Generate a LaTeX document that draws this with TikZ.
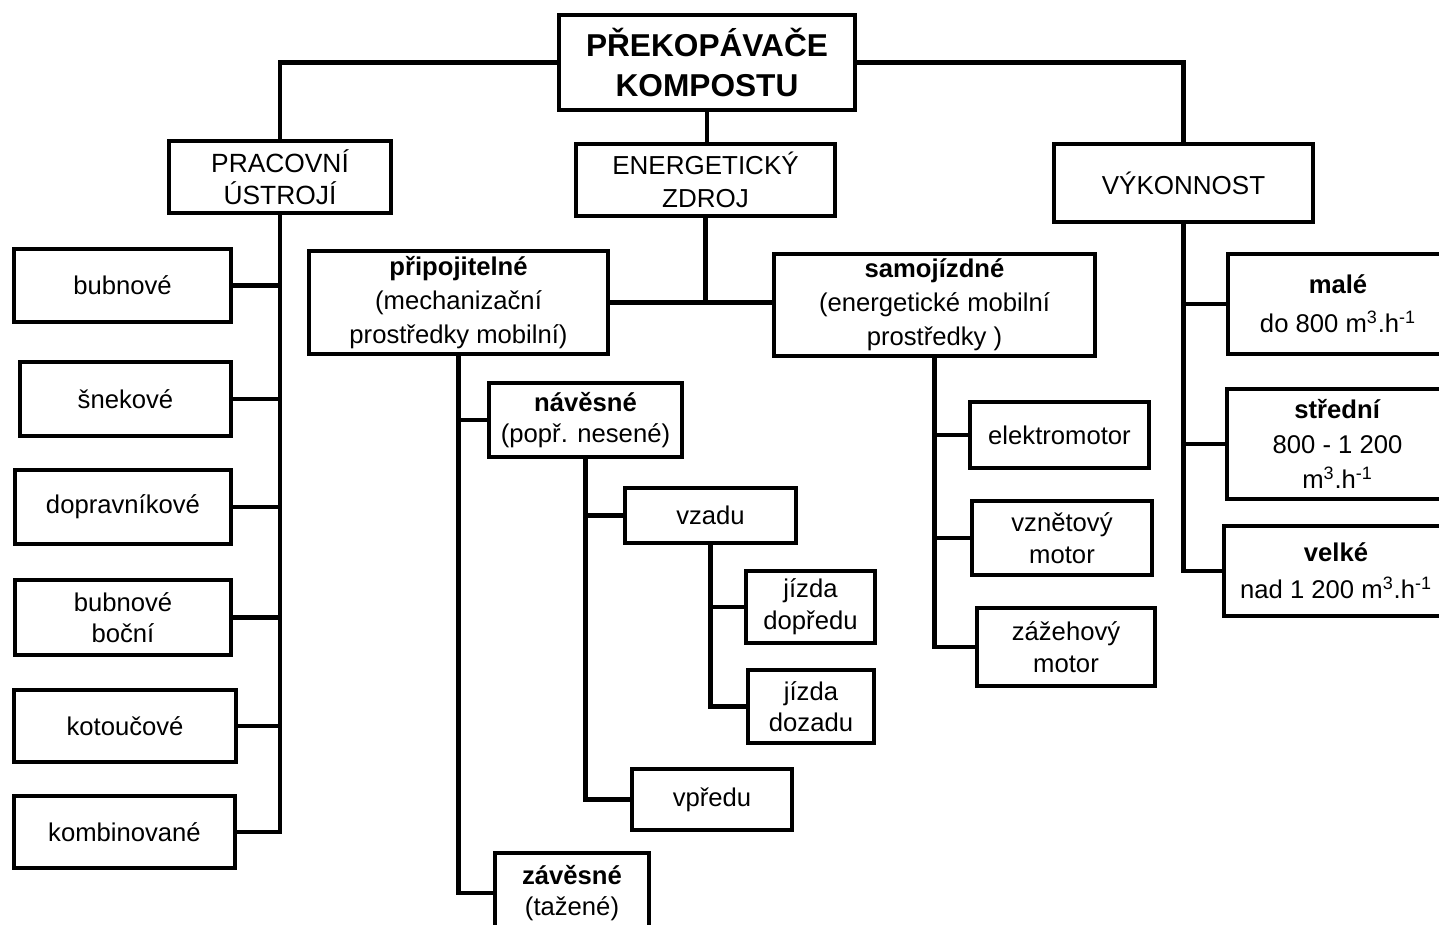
\documentclass[tikz,border=0pt]{standalone}
\usepackage{fontspec}
\setmainfont{Liberation Sans}
\begin{document}
\begin{tikzpicture}[x=0.02cm,y=-0.02cm,
  box/.style={draw=black,line width=2.5pt,fill=white,inner sep=0pt,align=center,
    font=\fontsize{14.6}{18}\selectfont},
  tall/.style={font=\fontsize{14.6}{19.3}\selectfont},
  conn/.style={draw=black,line width=2.5pt}]
\useasboundingbox (0,0) rectangle (1439,924);
\clip (0,0) rectangle (1439,924);
% top level
\node[box,minimum width=5.92cm,minimum height=1.90cm,font=\bfseries\fontsize{18}{23.2}\selectfont] (top) at (707,62.5) {PŘEKOPÁVAČE\\KOMPOSTU};
\node[box,minimum width=4.44cm,minimum height=1.44cm,font=\fontsize{15}{18.5}\selectfont] (prac) at (280,177) {PRACOVNÍ\\ÚSTROJÍ};
\node[box,minimum width=5.18cm,minimum height=1.44cm,font=\fontsize{14.8}{18.5}\selectfont] (ener) at (705.5,180) {ENERGETICKÝ\\ZDROJ};
\node[box,minimum width=5.18cm,minimum height=1.56cm,font=\fontsize{14.8}{18.5}\selectfont] (vyk) at (1183.5,183) {VÝKONNOST};
% left column
\node[box,minimum width=4.34cm,minimum height=1.46cm] (bub) at (122.5,285.5) {bubnové};
\node[box,minimum width=4.22cm,minimum height=1.48cm] (snek) at (125.5,399) {šnekové};
\node[box,minimum width=4.32cm,minimum height=1.48cm] (dopr) at (123,507) {dopravníkové};
\node[box,minimum width=4.32cm,minimum height=1.50cm] (bubb) at (123,617.5) {bubnové\\boční};
\node[box,minimum width=4.44cm,minimum height=1.44cm] (kot) at (125,726) {kotoučové};
\node[box,minimum width=4.42cm,minimum height=1.44cm] (komb) at (124.5,832) {kombinované};
% energy sources
\node[box,tall,minimum width=5.98cm,minimum height=2.06cm] (prip) at (458.5,302.5) {\textbf{připojitelné}\\(mechanizační\\prostředky mobilní)};
\node[box,tall,minimum width=6.42cm,minimum height=2.04cm] (samo) at (934.5,305) {\textbf{samojízdné}\\(energetické mobilní\\prostředky )};
\node[box,minimum width=3.86cm,minimum height=1.48cm] (nav) at (585.5,420) {\textbf{návěsné}\\(popř. nesené)};
\node[box,minimum width=3.08cm,minimum height=1.60cm] (zav) at (572,893) {\textbf{závěsné}\\(tažené)};
\node[box,minimum width=3.42cm,minimum height=1.10cm] (vzadu) at (710.5,515.5) {vzadu};
\node[box,minimum width=3.20cm,minimum height=1.22cm] (vpredu) at (712,799.5) {vpředu};
\node[box,minimum width=2.58cm,minimum height=1.44cm] (jdop) at (810.5,607) {jízda\\dopředu};
\node[box,minimum width=2.52cm,minimum height=1.46cm] (jdoz) at (811,706.5) {jízda\\dozadu};
\node[box,minimum width=3.58cm,minimum height=1.32cm] (elek) at (1059.5,435) {elektromotor};
\node[box,minimum width=3.60cm,minimum height=1.48cm] (vzn) at (1062,538) {vznětový\\motor};
\node[box,minimum width=3.56cm,minimum height=1.56cm] (zaz) at (1066,647) {zážehový\\motor};
% capacity
\node[box,minimum width=4.40cm,minimum height=2.00cm,font=\fontsize{14.6}{22}\selectfont] (male) at (1338,304) {\textbf{malé}\\do 800 m\textsuperscript{3}.h\textsuperscript{-1}};
\node[box,minimum width=4.42cm,minimum height=2.20cm,font=\fontsize{14.6}{20}\selectfont] (stred) at (1337.5,444) {\textbf{střední}\\800 - 1 200\\m\textsuperscript{3}.h\textsuperscript{-1}};
\node[box,minimum width=4.48cm,minimum height=1.80cm,font=\fontsize{14.6}{21}\selectfont] (velke) at (1336,571) {\textbf{velké}\\nad 1 200 m\textsuperscript{3}.h\textsuperscript{-1}};
% connectors
\draw[conn] (top.west) -| (prac.north);
\draw[conn] (top.east) -| (vyk.north);
\draw[conn] (top.south) -- (top.south |- ener.north);
\draw[conn] (prac.south) |- (komb.east);
\foreach \n in {bub,snek,dopr,bubb,kot}
  \draw[conn] (\n.east) -- (\n.east -| prac.south);
\draw[conn] (ener.south) -- (ener.south |- prip.east);
\draw[conn] (prip.east) -- (prip.east -| samo.west);
\draw[conn] (prip.south) |- (zav.west);
\draw[conn] (nav.west) -- (nav.west -| prip.south);
\draw[conn] (nav.south) |- (vpredu.west);
\draw[conn] (vzadu.west) -- (vzadu.west -| nav.south);
\draw[conn] (vzadu.south) |- (jdoz.west);
\draw[conn] (jdop.west) -- (jdop.west -| vzadu.south);
\draw[conn] (samo.south) |- (zaz.west);
\draw[conn] (elek.west) -- (elek.west -| samo.south);
\draw[conn] (vzn.west) -- (vzn.west -| samo.south);
\draw[conn] (vyk.south) |- (velke.west);
\draw[conn] (male.west) -- (male.west -| vyk.south);
\draw[conn] (stred.west) -- (stred.west -| vyk.south);
\end{tikzpicture}
\end{document}
